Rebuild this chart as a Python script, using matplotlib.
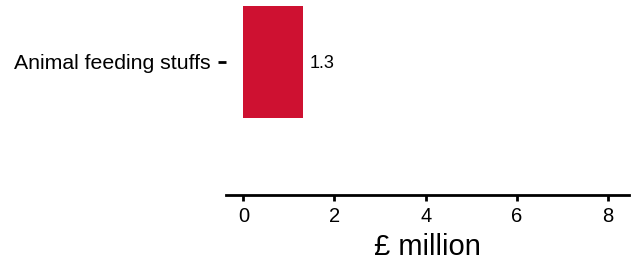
import numpy as np
import matplotlib
matplotlib.use('Agg')
import matplotlib.pyplot as plt

plt.rcParams['font.family'] = ['Liberation Sans', 'DejaVu Sans']

categories = ['Animal feeding stuffs']
values = [1.3]
value_labels = ['1.3']
x_ticks = [0, 2, 4, 6, 8]

fig = plt.figure(figsize=(6.31, 2.62), dpi=100)
ax = fig.add_axes([226 / 631, 1 - 195 / 262, 403 / 631, 195 / 262])

y = np.arange(len(categories))
ax.barh(y, values, height=0.9, color='#CE1131')
for yi, v, lab in zip(y, values, value_labels):
    ax.annotate(lab, (v, yi), xytext=(5, 0), textcoords='offset points',
                va='center_baseline', ha='left', fontsize=13)

# ggplot-like limits
ax.set_xlim(-0.38, 8.46)
ax.set_ylim(-1.069, 0.498)
ax.set_yticks(y)
ax.set_yticklabels(categories, fontsize=15.3)
for lbl in ax.get_yticklabels():
    lbl.set_va('center_baseline')
ax.set_xticks(x_ticks)
ax.set_xticklabels([str(t) for t in x_ticks], fontsize=14.5)
ax.set_xlabel('£ million', fontsize=21, labelpad=5)

for s in ['top', 'right', 'left']:
    ax.spines[s].set_visible(False)
ax.spines['bottom'].set_linewidth(2)
ax.tick_params(axis='x', length=4, width=2, pad=5)
ax.tick_params(axis='y', length=6, width=2, pad=5)
ax.set_facecolor('white')

fig.savefig('out.png', dpi=100)
